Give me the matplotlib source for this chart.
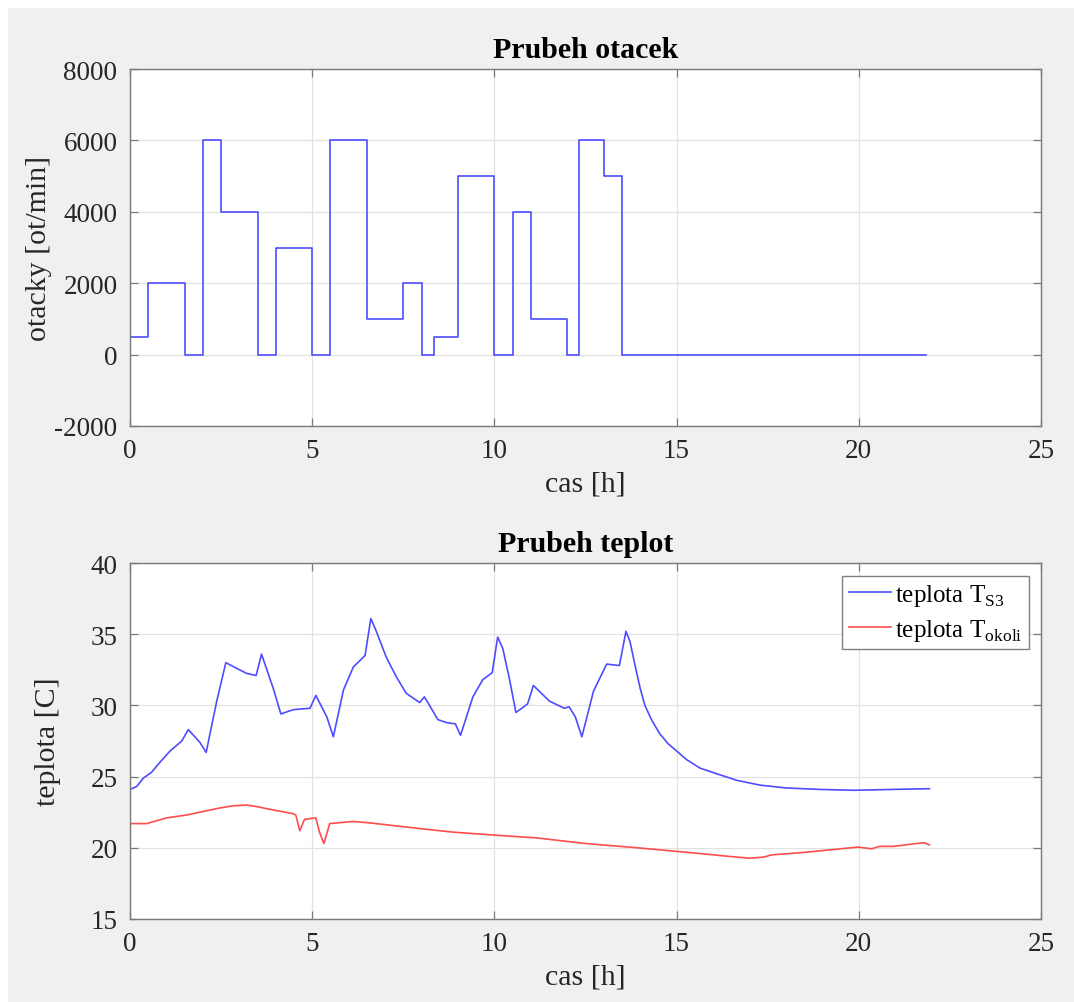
import numpy as np
import matplotlib
matplotlib.use("Agg")
import matplotlib.pyplot as plt
from matplotlib.patches import Rectangle

# otacky - skokovy prubeh (cas zacatku useku, hodnota)
t_rpm = [0, 0.5, 1.5, 2.0, 2.5, 3.5, 4.0, 5.0, 5.5, 6.5, 7.5, 8.0, 8.33,
         9.0, 10.0, 10.5, 11.0, 12.0, 12.33, 13.0, 13.5, 21.85]
rpm = [500, 2000, 0, 6000, 4000, 0, 3000, 0, 6000, 1000, 2000, 0, 500,
       5000, 0, 4000, 1000, 0, 6000, 5000, 0, 0]

# teplota T_S3
t_s3 = [0, 0.18, 0.37, 0.59, 0.82, 1.1, 1.42, 1.6, 1.92, 2.09, 2.38, 2.63,
        2.93, 3.2, 3.46, 3.61, 3.93, 4.14, 4.48, 4.94, 5.1, 5.4, 5.58, 5.86,
        6.13, 6.45, 6.61, 6.76, 6.91, 7.03, 7.31, 7.58, 7.95, 8.08, 8.45,
        8.68, 8.93, 9.07, 9.41, 9.68, 9.94, 10.09, 10.23, 10.41, 10.59,
        10.91, 11.07, 11.51, 11.92, 12.05, 12.22, 12.4, 12.72, 13.08, 13.43,
        13.61, 13.72, 13.86, 14.0, 14.13, 14.31, 14.54, 14.77, 15.0, 15.27,
        15.64, 16.1, 16.65, 17.29, 18.02, 18.93, 19.85, 20.95, 21.94]
temp_s3 = [24.1, 24.3, 24.9, 25.3, 26.0, 26.8, 27.5, 28.3, 27.4, 26.7, 30.3,
           33.0, 32.6, 32.25, 32.1, 33.6, 31.2, 29.4, 29.7, 29.8, 30.7, 29.2,
           27.8, 31.1, 32.7, 33.5, 36.1, 35.2, 34.2, 33.4, 32.0, 30.85, 30.2,
           30.6, 29.0, 28.8, 28.7, 27.9, 30.6, 31.8, 32.3, 34.8, 34.0, 31.9,
           29.5, 30.1, 31.4, 30.3, 29.8, 29.9, 29.2, 27.8, 31.0, 32.9, 32.8,
           35.2, 34.5, 32.8, 31.2, 30.0, 29.0, 28.0, 27.3, 26.8, 26.2, 25.6,
           25.2, 24.74, 24.4, 24.2, 24.1, 24.04, 24.1, 24.15]

# teplota okoli
t_ok = [0, 0.46, 0.73, 1.0, 1.55, 2.01, 2.47, 2.83, 3.2, 3.47, 3.84, 4.47,
        4.55, 4.66, 4.79, 5.1, 5.2, 5.32, 5.48, 6.12, 6.58, 7.95, 8.86, 9.95,
        11.14, 12.5, 13.7, 15.05, 16.43, 17.0, 17.4, 17.6, 18.6, 19.97,
        20.36, 20.56, 20.95, 21.58, 21.8, 21.94]
temp_ok = [21.7, 21.7, 21.9, 22.1, 22.3, 22.55, 22.8, 22.95, 23.0, 22.9,
           22.7, 22.4, 22.3, 21.2, 22.0, 22.1, 21.1, 20.3, 21.7, 21.85, 21.75,
           21.35, 21.1, 20.9, 20.7, 20.3, 20.05, 19.74, 19.4, 19.27, 19.35,
           19.5, 19.7, 20.05, 19.93, 20.1, 20.1, 20.3, 20.35, 20.2]

plt.rcParams['font.family'] = ['Liberation Serif', 'DejaVu Serif']
plt.rcParams['mathtext.fontset'] = 'custom'
plt.rcParams['mathtext.rm'] = 'Liberation Serif'
plt.rcParams['axes.unicode_minus'] = False

tick_col = '#262626'
spine_col = '#7a7a7a'
grid_col = '#e2e2e2'
blue = '#4d4dff'
red = '#ff4d4d'

fig = plt.figure(figsize=(10.74, 10.03), dpi=100)
fig.patch.set_facecolor('white')
fig.patches.append(Rectangle((8 / 1074, 0), 1, 1 - 9 / 1003,
                             transform=fig.transFigure, color='#f0f0f0',
                             zorder=-10))

ax1 = fig.add_axes([130 / 1074, 1 - 427 / 1003, 911 / 1074, 357 / 1003])
ax2 = fig.add_axes([130 / 1074, 1 - 920 / 1003, 911 / 1074, 356 / 1003])


def style(ax):
    ax.set_facecolor('white')
    ax.grid(True, color=grid_col, linewidth=0.9)
    ax.set_axisbelow(True)
    for s in ax.spines.values():
        s.set_color(spine_col)
        s.set_linewidth(1.0)
    ax.tick_params(direction='in', length=6, width=0.9, top=True, right=True,
                   color=spine_col, labelcolor=tick_col, labelsize=19.5,
                   pad=9)
    ax.set_xlim(0, 25)
    ax.set_xticks([0, 5, 10, 15, 20, 25])
    ax.set_xlabel('cas [h]', fontsize=21.5, color=tick_col, labelpad=5)


style(ax1)
ax1.step(t_rpm, rpm, where='post', color=blue, linewidth=1.2)
ax1.set_ylim(-2000, 8000)
ax1.set_yticks([-2000, 0, 2000, 4000, 6000, 8000])
ax1.set_title('Prubeh otacek', fontsize=21.5, fontweight='bold', pad=9)
ax1.set_ylabel('otacky [ot/min]', fontsize=21.5, color=tick_col)
ax1.yaxis.set_label_coords(-0.1, 0.5)
ax1.yaxis.label.set_va('center')

style(ax2)
ax2.plot(t_s3, temp_s3, color=blue, linewidth=1.2,
         label=r'teplota $\mathrm{T}_{\mathrm{S3}}$')
ax2.plot(t_ok, temp_ok, color=red, linewidth=1.2,
         label=r'teplota $\mathrm{T}_{\mathrm{okoli}}$')
ax2.set_ylim(15, 40)
ax2.set_yticks([15, 20, 25, 30, 35, 40])
ax2.set_title('Prubeh teplot', fontsize=21.5, fontweight='bold', pad=9)
ax2.set_ylabel('teplota [C]', fontsize=21.5, color=tick_col)
ax2.yaxis.set_label_coords(-0.09, 0.5)
ax2.yaxis.label.set_va('center')

leg = ax2.legend(loc='upper right', fontsize=18, fancybox=False,
                 framealpha=1, edgecolor='#808080', handlelength=1.7,
                 handletextpad=0.15, borderaxespad=0.5, labelspacing=0.35,
                 borderpad=0.25)
leg.get_frame().set_linewidth(1.0)

fig.savefig('out.png', dpi=100)
